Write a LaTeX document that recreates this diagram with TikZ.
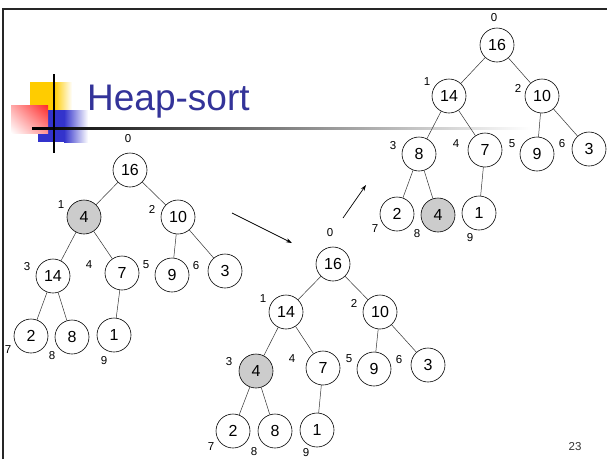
\documentclass[tikz,border=0pt]{standalone}
\usepackage{fontspec}
\setmainfont{Liberation Sans}
\usetikzlibrary{shadings,arrows.meta}
\definecolor{titleblue}{RGB}{51,51,153}
\definecolor{sqyellow}{RGB}{255,204,0}
\definecolor{sqblue}{RGB}{51,51,204}
\definecolor{sqred}{RGB}{255,40,40}
\begin{document}
\begin{tikzpicture}[x=1pt,y=-1pt,
  hn/.style={circle,draw=black,line width=0.6pt,minimum size=34pt,inner sep=0pt,font=\fontsize{16}{16}\selectfont},
  gn/.style={hn,fill=black!20},
  idx/.style={inner sep=0pt,font=\fontsize{11.5}{12}\selectfont},
  edge/.style={line width=0.5pt,draw=black!80},
  arr/.style={line width=0.7pt,-{Stealth[length=6pt,width=4pt]}}]
\useasboundingbox (0,0) rectangle (607,459);
\fill[white] (0,0) rectangle (607,459);
% frame
\draw[line width=2pt,black!85] (3,459) -- (3,9) -- (607,9);
% decoration
\fill[sqyellow] (30,82) rectangle (54,110);
\shade[left color=sqyellow,right color=white] (54,82) rectangle (72,110);
\fill[sqblue] (38,110) rectangle (64,142);
\shade[left color=sqblue,right color=white] (64,110) rectangle (88,142);
\shade[lower left=white,upper right=sqred,lower right=sqred!50!white,upper left=sqred!40!white] (11,105) rectangle (48,133);
\shade[left color=black,right color=white] (32,127) rectangle (530,129.2);
\fill[black] (53,74) rectangle (55.2,153);
\node[anchor=base west,inner sep=0pt,text=titleblue,font=\fontsize{37}{37}\selectfont] (title) at (87,110) {Heap-sort};
% tree 1
\node[hn] (a0) at (130,170) {16};
\node[gn] (a1) at (84,217) {4};
\node[hn] (a2) at (178,217) {10};
\node[hn] (a3) at (53,276) {14};
\node[hn] (a4) at (122,273) {7};
\node[hn] (a5) at (172,275) {9};
\node[hn] (a6) at (225,271) {3};
\node[hn] (a7) at (31,336) {2};
\node[hn] (a8) at (72,337) {8};
\node[hn] (a9) at (114,335) {1};
\draw[edge] (a0)--(a1) (a0)--(a2) (a1)--(a3) (a1)--(a4) (a2)--(a5) (a2)--(a6) (a3)--(a7) (a3)--(a8) (a4)--(a9);
\node[idx] (la0) at (128,139) {0};
\node[idx] (la1) at (61,205) {1};
\node[idx] (la2) at (152,209) {2};
\node[idx] (la3) at (27,267) {3};
\node[idx] (la4) at (89,265) {4};
\node[idx] (la5) at (146,265) {5};
\node[idx] (la6) at (196,266) {6};
\node[idx] (la7) at (8,350) {7};
\node[idx] (la8) at (52,356) {8};
\node[idx] (la9) at (104,361) {9};
% tree 2
\node[hn] (b0) at (333,264) {16};
\node[hn] (b1) at (286,312) {14};
\node[hn] (b2) at (380,312) {10};
\node[gn] (b3) at (256,371) {4};
\node[hn] (b4) at (323,368) {7};
\node[hn] (b5) at (374,369) {9};
\node[hn] (b6) at (428,365) {3};
\node[hn] (b7) at (233,431) {2};
\node[hn] (b8) at (275,431) {8};
\node[hn] (b9) at (317,430) {1};
\draw[edge] (b0)--(b1) (b0)--(b2) (b1)--(b3) (b1)--(b4) (b2)--(b5) (b2)--(b6) (b3)--(b7) (b3)--(b8) (b4)--(b9);
\node[idx] (lb0) at (330,233) {0};
\node[idx] (lb1) at (263,299) {1};
\node[idx] (lb2) at (354,303) {2};
\node[idx] (lb3) at (229,362) {3};
\node[idx] (lb4) at (292,359) {4};
\node[idx] (lb5) at (349,359) {5};
\node[idx] (lb6) at (399,360) {6};
\node[idx] (lb7) at (211,447) {7};
\node[idx] (lb8) at (254,452) {8};
\node[idx] (lb9) at (306,453) {9};
% tree 3
\node[hn] (c0) at (497,45) {16};
\node[hn] (c1) at (449,96) {14};
\node[hn] (c2) at (542,96) {10};
\node[hn] (c3) at (419,154) {8};
\node[hn] (c4) at (485,150) {7};
\node[hn] (c5) at (537,154) {9};
\node[hn] (c6) at (589,149) {3};
\node[hn] (c7) at (397,214) {2};
\node[gn] (c8) at (438,215) {4};
\node[hn] (c9) at (479,213) {1};
\draw[edge] (c0)--(c1) (c0)--(c2) (c1)--(c3) (c1)--(c4) (c2)--(c5) (c2)--(c6) (c3)--(c7) (c3)--(c8) (c4)--(c9);
\node[idx] (lc0) at (494,18) {0};
\node[idx] (lc1) at (427,82) {1};
\node[idx] (lc2) at (518,88) {2};
\node[idx] (lc3) at (393,146) {3};
\node[idx] (lc4) at (456,144) {4};
\node[idx] (lc5) at (512,144) {5};
\node[idx] (lc6) at (562,144) {6};
\node[idx] (lc7) at (375,229) {7};
\node[idx] (lc8) at (417,234) {8};
\node[idx] (lc9) at (470,238) {9};
% arrows
\coordinate (p1) at (232,213);
\coordinate (p2) at (292,243);
\coordinate (q1) at (343,218);
\coordinate (q2) at (366,185);
\draw[arr] (p1) -- (p2);
\draw[arr] (q1) -- (q2);
% page number
\node[idx,text=black!80] (page) at (575,447) {23};
\end{tikzpicture}
\end{document}
